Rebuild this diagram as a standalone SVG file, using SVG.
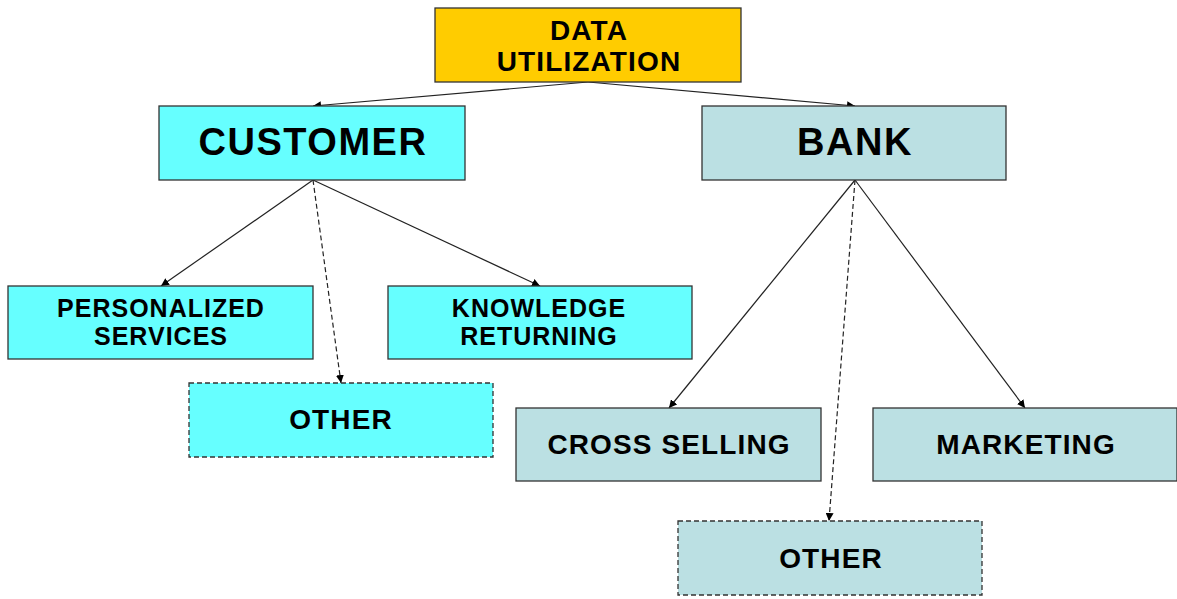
<svg xmlns="http://www.w3.org/2000/svg" width="1177" height="599" viewBox="0 0 1177 599">
<style>
.box{stroke:#333;stroke-width:1.3}
.dash{stroke-dasharray:5,3}
.cy{fill:#66FFFF}
.bk{fill:#BBE0E3}
.gd{fill:#FFCC00}
text{font-family:"Liberation Sans",Arial,sans-serif;font-weight:bold;fill:#000;text-anchor:middle;letter-spacing:0.04em}
.c{stroke:#222;stroke-width:1.2;fill:none;marker-end:url(#ah)}
</style>
<defs>
<marker id="ah" viewBox="0 0 10 10" refX="10" refY="5" markerWidth="8" markerHeight="8" markerUnits="userSpaceOnUse" orient="auto">
<path d="M0,0 L10,5 L0,10 z" fill="#000"/>
</marker>
</defs>
<rect width="1177" height="599" fill="#fff"/>
<g id="connectors">
<line class="c" x1="588" y1="82" x2="313" y2="106"/>
<line class="c" x1="588" y1="82" x2="855" y2="106"/>
<line class="c" x1="313" y1="180" x2="161" y2="286"/>
<line class="c" x1="313" y1="180" x2="540" y2="286"/>
<line class="c dash" x1="313" y1="180" x2="341" y2="383"/>
<line class="c" x1="855" y1="180" x2="669" y2="408"/>
<line class="c" x1="855" y1="180" x2="1025" y2="408"/>
<line class="c dash" x1="855" y1="180" x2="829" y2="521"/>
</g>
<g id="data-utilization">
<rect class="box gd" x="435" y="8" width="306" height="74"/>
<text x="589" y="40" font-size="28">DATA</text>
<text x="589" y="71" font-size="28">UTILIZATION</text>
</g>
<g id="customer">
<rect class="box cy" x="159" y="106" width="306" height="74"/>
<text x="313" y="155" font-size="38">CUSTOMER</text>
</g>
<g id="bank">
<rect class="box bk" x="702" y="106" width="304" height="74"/>
<text x="855" y="155" font-size="38">BANK</text>
</g>
<g id="personalized-services">
<rect class="box cy" x="8" y="286" width="305" height="73"/>
<text x="161" y="317" font-size="25">PERSONALIZED</text>
<text x="161" y="345" font-size="25">SERVICES</text>
</g>
<g id="knowledge-returning">
<rect class="box cy" x="388" y="286" width="304" height="73"/>
<text x="539" y="317" font-size="25">KNOWLEDGE</text>
<text x="539" y="345" font-size="25">RETURNING</text>
</g>
<g id="customer-other">
<rect class="box cy dash" x="189" y="383" width="304" height="74"/>
<text x="341" y="429" font-size="28">OTHER</text>
</g>
<g id="cross-selling">
<rect class="box bk" x="516" y="408" width="305" height="73"/>
<text x="669" y="454" font-size="28">CROSS SELLING</text>
</g>
<g id="marketing">
<rect class="box bk" x="873" y="408" width="304" height="73"/>
<text x="1026" y="454" font-size="28">MARKETING</text>
</g>
<g id="bank-other">
<rect class="box bk dash" x="678" y="521" width="304" height="74"/>
<text x="831" y="568" font-size="28">OTHER</text>
</g>
</svg>
